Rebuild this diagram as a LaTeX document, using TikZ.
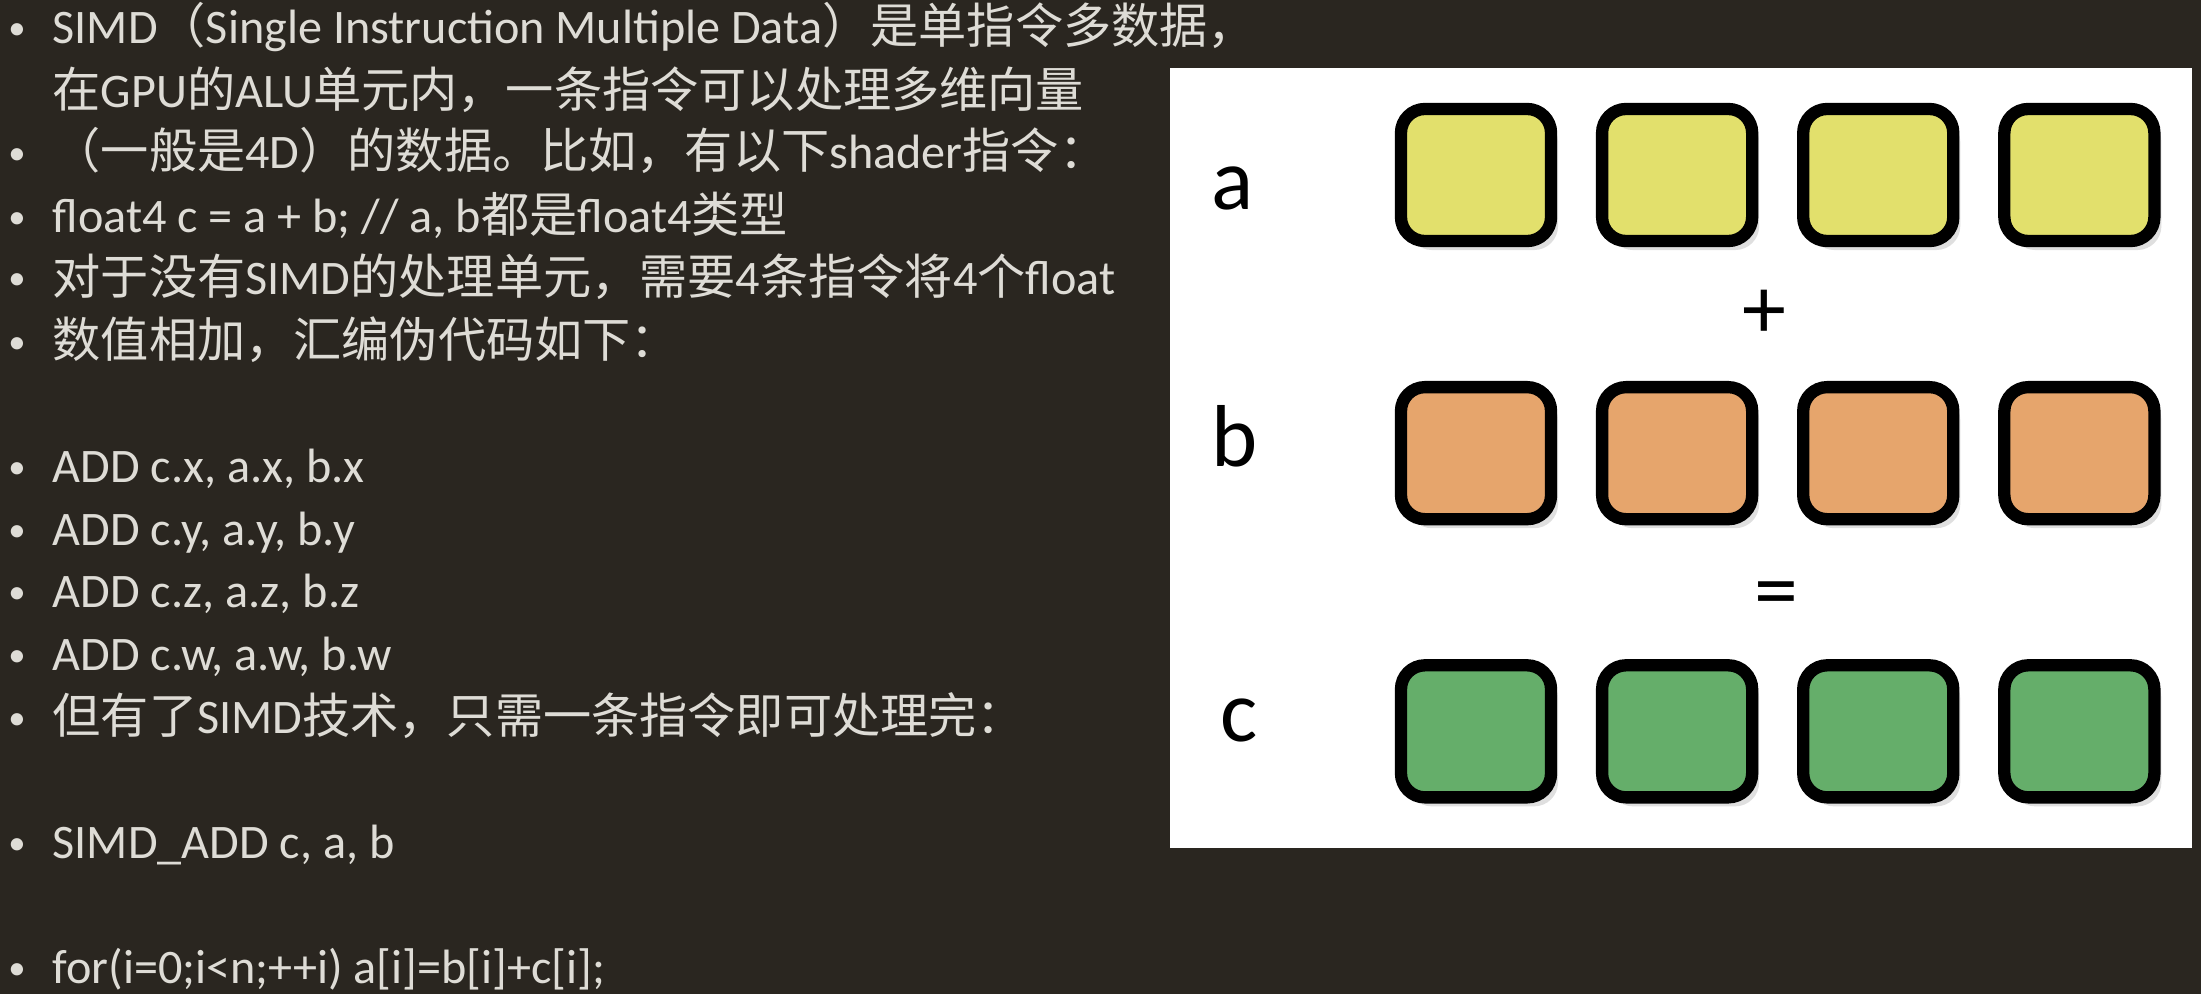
\documentclass[tikz,border=0pt]{standalone}
\usepackage{fontspec}
\setmainfont{Carlito}
\newfontfamily\zhfont{Noto Sans CJK SC}
\newcommand{\zh}[1]{{\zhfont #1}}
\newcommand{\itm}{\llap{\raisebox{0.04cm}{\scalebox{0.72}{\textbullet}}\hspace{0.27cm}}}
\usetikzlibrary{shadows}
\definecolor{slidebg}{RGB}{42,38,32}
\definecolor{slidetext}{RGB}{222,220,214}
\definecolor{cellyellow}{RGB}{226,224,108}
\definecolor{cellorange}{RGB}{230,165,108}
\definecolor{cellgreen}{RGB}{101,174,106}

\begin{document}
\begin{tikzpicture}[x=0.01cm,y=-0.01cm,node distance=2.01cm,
  cell node/.style={rectangle,rounded corners=0.24cm,draw=black,
  line width=3.5pt,minimum width=1.5cm,minimum height=1.32cm,inner sep=0pt,
  drop shadow={shadow xshift=0.07cm,shadow yshift=-0.09cm,opacity=0.25}},
  yellow cell/.style={cell node,fill=cellyellow},
  orange cell/.style={cell node,fill=cellorange},
  green cell/.style={cell node,fill=cellgreen},
  text line/.style={anchor=base west,inner sep=0pt,text=slidetext,
  font=\fontsize{13.7}{16}\selectfont},
  row label/.style={anchor=base,inner sep=0pt,text=black,
  font=\fontsize{25}{30}\selectfont}]

  % slide and white panel
  \fill[slidebg] (0,0) rectangle (2201,994);
  \fill[white] (1170,68) rectangle (2192,848);

  % text on the left
  \node[text line] (t1) at (52,44) {\itm SIMD\zh{（}Single Instruction Multiple Data\zh{）是单指令多数据，}};
  \node[text line] (t2) at (52,107) {\zh{在}GPU\zh{的}ALU\zh{单元内，一条指令可以处理多维向量}};
  \node[text line] (t3) at (52,169) {\itm\zh{（一般是}4D\zh{）的数据。比如，有以下}shader\zh{指令：}};
  \node[text line] (t4) at (52,232) {\itm float4 c = a + b; // a, b\zh{都是}float4\zh{类型}};
  \node[text line] (t5) at (52,294) {\itm\zh{对于没有}SIMD\zh{的处理单元，需要}4\zh{条指令将}4\zh{个}float};
  \node[text line] (t6) at (52,357) {\itm\zh{数值相加，汇编伪代码如下：}};
  \node[text line] (t7) at (52,482) {\itm ADD c.x, a.x, b.x};
  \node[text line] (t8) at (52,545) {\itm ADD c.y, a.y, b.y};
  \node[text line] (t9) at (52,607) {\itm ADD c.z, a.z, b.z};
  \node[text line] (t10) at (52,670) {\itm ADD c.w, a.w, b.w};
  \node[text line] (t11) at (52,733) {\itm\zh{但有了}SIMD\zh{技术，只需一条指令即可处理完：}};
  \node[text line] (t12) at (52,858) {\itm SIMD\_ADD c, a, b};
  \node[text line] (t13) at (52,983) {\itm for(i=0;i<n;++i) a[i]=b[i]+c[i];};

  % vectors a, b, c
  \node[yellow cell] (a1) at (1476,175) {};
  \node[yellow cell] (a2) [right of=a1] {};
  \node[yellow cell] (a3) [right of=a2] {};
  \node[yellow cell] (a4) [right of=a3] {};
  \node[orange cell] (b1) [below of=a1,node distance=2.78cm] {};
  \node[orange cell] (b2) [right of=b1] {};
  \node[orange cell] (b3) [right of=b2] {};
  \node[orange cell] (b4) [right of=b3] {};
  \node[green cell] (c1) [below of=b1,node distance=2.78cm] {};
  \node[green cell] (c2) [right of=c1] {};
  \node[green cell] (c3) [right of=c2] {};
  \node[green cell] (c4) [right of=c3] {};

  \node[row label] (la) at (1233,209) {a};
  \node[row label] (lb) at (1235,466) {b};
  \node[row label] (lc) at (1239,741) {c};
  \node[row label,anchor=center] (plus) at (1764,314) {+};
  \node[row label,anchor=center] (equals) at (1776,601) {=};
\end{tikzpicture}
\end{document}
